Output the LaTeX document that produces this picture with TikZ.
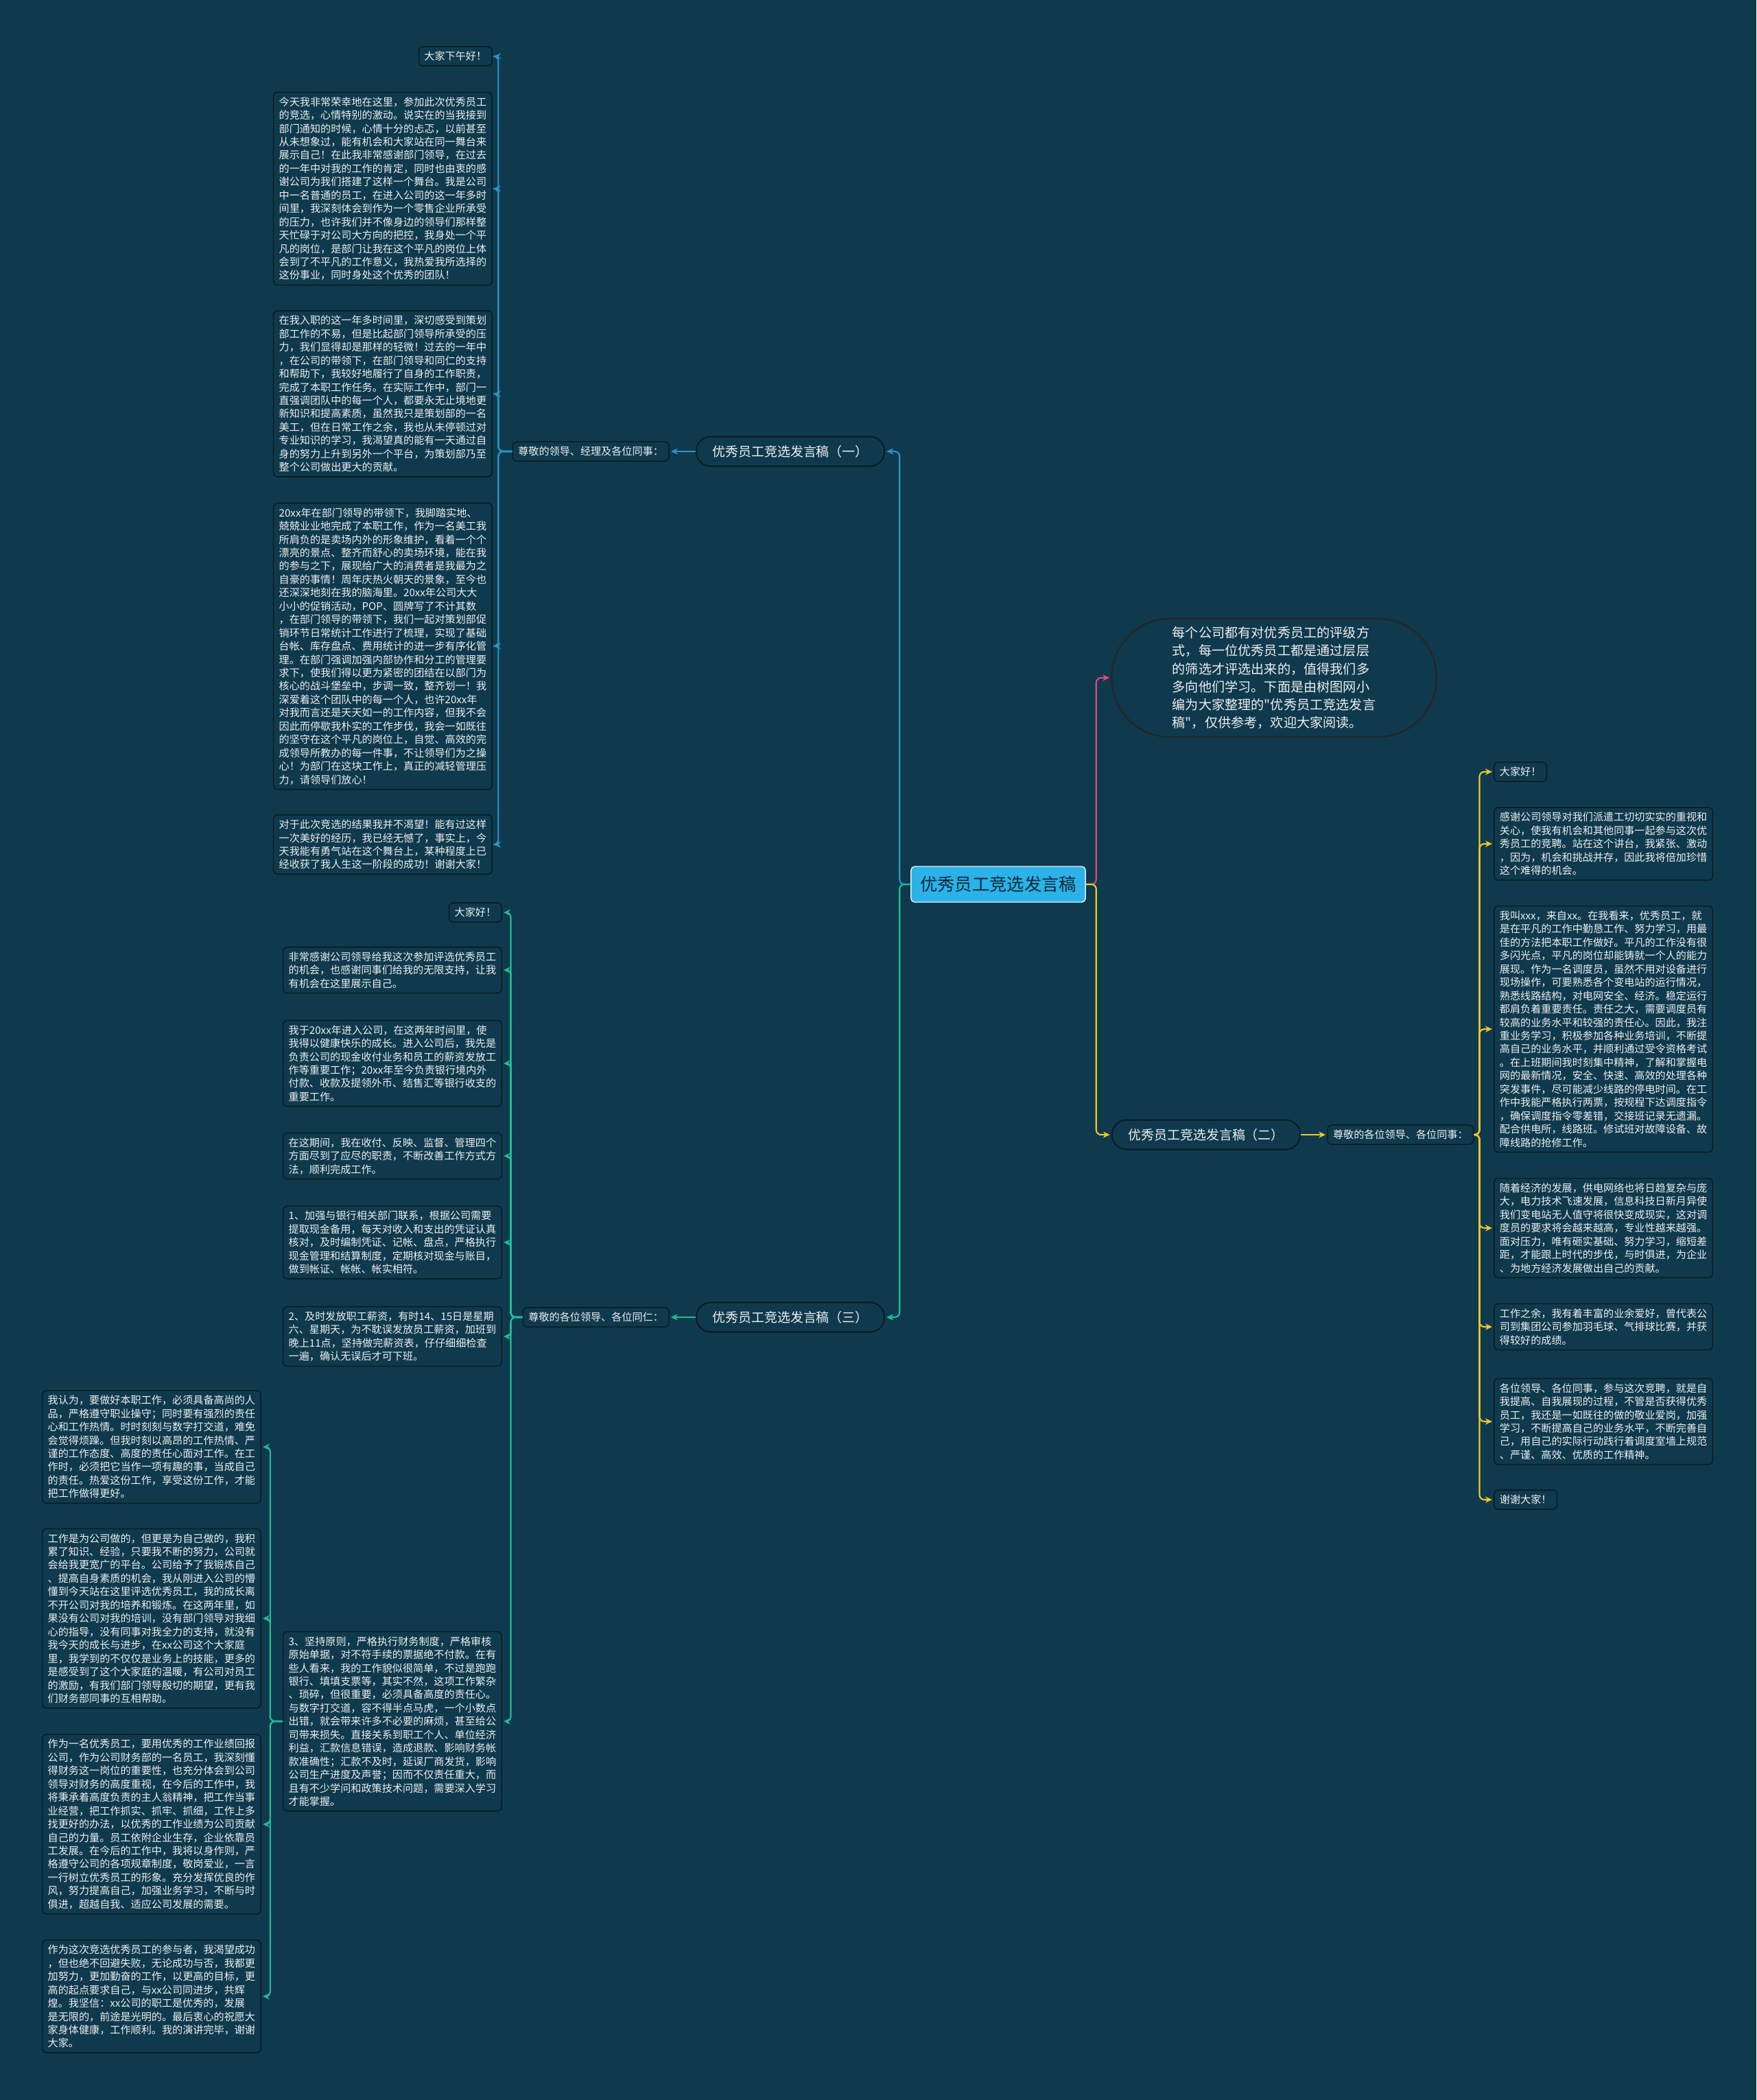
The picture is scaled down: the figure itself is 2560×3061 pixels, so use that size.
\documentclass[tikz,border=0pt]{standalone}
\usepackage{fontspec}
\setmainfont[Ligatures=TeXOff]{Noto Sans CJK SC}
\usepackage{xcolor}
\usepackage{tikz}
\usetikzlibrary{positioning, arrows.meta}

\definecolor{bgcol}{RGB}{15,58,77}
\definecolor{boxline}{RGB}{12,28,36}
\definecolor{inkwhite}{RGB}{238,238,238}
\definecolor{rootfill}{RGB}{43,178,232}
\definecolor{rootink}{RGB}{10,40,56}
\definecolor{blueline}{RGB}{40,150,205}
\definecolor{greenline}{RGB}{34,190,150}
\definecolor{pinkline}{RGB}{228,70,120}
\definecolor{yellowline}{RGB}{238,200,44}

\begin{document}
\begin{tikzpicture}[
        x = 0.01cm, y = -0.01cm,
        every node/.style = {text = inkwhite},
        para/.style = {
            draw = boxline,
            fill = bgcol,
            line width = 0.45pt,
            rounded corners = 1.8pt,
            align = left,
            inner xsep = 2.3pt,
            inner ysep = 2pt,
            font = \fontsize{4.3pt}{5.53pt}\selectfont
        },
        branch/.style = {
            draw = boxline,
            fill = bgcol,
            line width = 0.6pt,
            rounded corners = 0.21cm,
            minimum width = 2.74cm,
            minimum height = 0.43cm,
            inner sep = 1pt,
            font = \fontsize{5.4pt}{6.5pt}\selectfont
        },
        root/.style = {
            draw = white!85!rootfill,
            fill = rootfill,
            text = rootink,
            rounded corners = 1.5pt,
            minimum width = 2.54cm,
            minimum height = 0.52cm,
            inner sep = 1pt,
            font = \fontsize{7.2pt}{8.6pt}\selectfont
        },
        intro/.style = {
            draw = black!85,
            fill = bgcol,
            line width = 0.7pt,
            rounded corners = 0.85cm,
            minimum width = 4.73cm,
            minimum height = 1.72cm,
            align = left,
            font = \fontsize{5.45pt}{7.43pt}\selectfont
        },
        link/.style = {
            line width = 0.6pt,
            rounded corners = 2pt,
            shorten > = 0.6pt,
            -{Stealth[length = 2.8pt, width = 2.6pt]}
        }
    ]
    \fill[bgcol] (0,0) rectangle (2560,3061);
    \useasboundingbox (0,0) rectangle (2560,3061);

    % centre
    \node[root] (speech) at (1455,1289) {优秀员工竞选发言稿};
    \node[intro] (intro) at (1857,988) {
        每个公司都有对优秀员工的评级方\\
        式，每一位优秀员工都是通过层层\\
        的筛选才评选出来的，值得我们多\\
        多向他们学习。下面是由树图网小\\
        编为大家整理的"优秀员工竞选发言\\
        稿"，仅供参考，欢迎大家阅读。};

    % branches
    \node[branch] (one) at (1152,658) {优秀员工竞选发言稿（一）};
    \node[branch] (two) at (1758,1654) {优秀员工竞选发言稿（二）};
    \node[branch] (three) at (1152,1920) {优秀员工竞选发言稿（三）};
    \node[para, left = 0.38cm of one] (dear1) {尊敬的领导、经理及各位同事：};
    \node[para, right = 0.38cm of two] (dear2) {尊敬的各位领导、各位同事：};
    \node[para, left = 0.38cm of three] (dear3) {尊敬的各位领导、各位同仁：};

    % speech one
    \node[para, anchor = east] (one1) at (718,82) {大家下午好！};
    \node[para, anchor = east] (one2) at (718,275) {
        今天我非常荣幸地在这里，参加此次优秀员工\\
        的竞选，心情特别的激动。说实在的当我接到\\
        部门通知的时候，心情十分的忐忑，以前甚至\\
        从未想象过，能有机会和大家站在同一舞台来\\
        展示自己！在此我非常感谢部门领导，在过去\\
        的一年中对我的工作的肯定，同时也由衷的感\\
        谢公司为我们搭建了这样一个舞台。我是公司\\
        中一名普通的员工，在进入公司的这一年多时\\
        间里，我深刻体会到作为一个零售企业所承受\\
        的压力，也许我们并不像身边的领导们那样整\\
        天忙碌于对公司大方向的把控，我身处一个平\\
        凡的岗位，是部门让我在这个平凡的岗位上体\\
        会到了不平凡的工作意义，我热爱我所选择的\\
        这份事业，同时身处这个优秀的团队！};
    \node[para, anchor = east] (one3) at (718,574) {
        在我入职的这一年多时间里，深切感受到策划\\
        部工作的不易，但是比起部门领导所承受的压\\
        力，我们显得却是那样的轻微！过去的一年中\\
        ，在公司的带领下，在部门领导和同仁的支持\\
        和帮助下，我较好地履行了自身的工作职责，\\
        完成了本职工作任务。在实际工作中，部门一\\
        直强调团队中的每一个人，都要永无止境地更\\
        新知识和提高素质，虽然我只是策划部的一名\\
        美工，但在日常工作之余，我也从未停顿过对\\
        专业知识的学习，我渴望真的能有一天通过自\\
        身的努力上升到另外一个平台，为策划部乃至\\
        整个公司做出更大的贡献。};
    \node[para, anchor = east] (one4) at (718,942) {
        20xx年在部门领导的带领下，我脚踏实地、\\
        兢兢业业地完成了本职工作，作为一名美工我\\
        所肩负的是卖场内外的形象维护，看着一个个\\
        漂亮的景点、整齐而舒心的卖场环境，能在我\\
        的参与之下，展现给广大的消费者是我最为之\\
        自豪的事情！周年庆热火朝天的景象，至今也\\
        还深深地刻在我的脑海里。20xx年公司大大\\
        小小的促销活动，POP、圆牌写了不计其数\\
        ，在部门领导的带领下，我们一起对策划部促\\
        销环节日常统计工作进行了梳理，实现了基础\\
        台帐、库存盘点、费用统计的进一步有序化管\\
        理。在部门强调加强内部协作和分工的管理要\\
        求下，使我们得以更为紧密的团结在以部门为\\
        核心的战斗堡垒中，步调一致，整齐划一！我\\
        深爱着这个团队中的每一个人，也许20xx年\\
        对我而言还是天天如一的工作内容，但我不会\\
        因此而停歇我朴实的工作步伐，我会一如既往\\
        的坚守在这个平凡的岗位上，自觉、高效的完\\
        成领导所教办的每一件事，不让领导们为之操\\
        心！为部门在这块工作上，真正的减轻管理压\\
        力，请领导们放心！};
    \node[para, anchor = east] (one5) at (718,1231) {
        对于此次竞选的结果我并不渴望！能有过这样\\
        一次美好的经历，我已经无憾了，事实上，今\\
        天我能有勇气站在这个舞台上，某种程度上已\\
        经收获了我人生这一阶段的成功！谢谢大家！};

    % speech two
    \node[para, anchor = west] (two1) at (2177,1125) {大家好！};
    \node[para, anchor = west] (two2) at (2177,1230) {
        感谢公司领导对我们派遣工切切实实的重视和\\
        关心，使我有机会和其他同事一起参与这次优\\
        秀员工的竞聘。站在这个讲台，我紧张、激动\\
        ，因为，机会和挑战并存，因此我将倍加珍惜\\
        这个难得的机会。};
    \node[para, anchor = west] (two3) at (2177,1500) {
        我叫xxx，来自xx。在我看来，优秀员工，就\\
        是在平凡的工作中勤恳工作、努力学习，用最\\
        佳的方法把本职工作做好。平凡的工作没有很\\
        多闪光点，平凡的岗位却能铸就一个人的能力\\
        展现。作为一名调度员，虽然不用对设备进行\\
        现场操作，可要熟悉各个变电站的运行情况，\\
        熟悉线路结构，对电网安全、经济。稳定运行\\
        都肩负着重要责任。责任之大，需要调度员有\\
        较高的业务水平和较强的责任心。因此，我注\\
        重业务学习，积极参加各种业务培训，不断提\\
        高自己的业务水平，并顺利通过受令资格考试\\
        。在上班期间我时刻集中精神，了解和掌握电\\
        网的最新情况，安全、快速、高效的处理各种\\
        突发事件，尽可能减少线路的停电时间。在工\\
        作中我能严格执行两票，按规程下达调度指令\\
        ，确保调度指令零差错，交接班记录无遗漏。\\
        配合供电所，线路班。修试班对故障设备、故\\
        障线路的抢修工作。};
    \node[para, anchor = west] (two4) at (2177,1790) {
        随着经济的发展，供电网络也将日趋复杂与庞\\
        大，电力技术飞速发展，信息科技日新月异使\\
        我们变电站无人值守将很快变成现实，这对调\\
        度员的要求将会越来越高，专业性越来越强。\\
        面对压力，唯有砸实基础、努力学习，缩短差\\
        距，才能跟上时代的步伐，与时俱进，为企业\\
        、为地方经济发展做出自己的贡献。};
    \node[para, anchor = west] (two5) at (2177,1934) {
        工作之余，我有着丰富的业余爱好，曾代表公\\
        司到集团公司参加羽毛球、气排球比赛，并获\\
        得较好的成绩。};
    \node[para, anchor = west] (two6) at (2177,2072) {
        各位领导、各位同事，参与这次竞聘，就是自\\
        我提高、自我展现的过程，不管是否获得优秀\\
        员工，我还是一如既往的做的敬业爱岗，加强\\
        学习，不断提高自己的业务水平，不断完善自\\
        己，用自己的实际行动践行着调度室墙上规范\\
        、严谨、高效、优质的工作精神。};
    \node[para, anchor = west] (two7) at (2177,2186) {谢谢大家！};

    % speech three
    \node[para, anchor = east] (three1) at (732,1330) {大家好！};
    \node[para, anchor = east] (three2) at (732,1414) {
        非常感谢公司领导给我这次参加评选优秀员工\\
        的机会，也感谢同事们给我的无限支持，让我\\
        有机会在这里展示自己。};
    \node[para, anchor = east] (three3) at (732,1550) {
        我于20xx年进入公司，在这两年时间里，使\\
        我得以健康快乐的成长。进入公司后，我先是\\
        负责公司的现金收付业务和员工的薪资发放工\\
        作等重要工作；20xx年至今负责银行境内外\\
        付款、收款及提领外币、结售汇等银行收支的\\
        重要工作。};
    \node[para, anchor = east] (three4) at (732,1685) {
        在这期间，我在收付、反映、监督、管理四个\\
        方面尽到了应尽的职责，不断改善工作方式方\\
        法，顺利完成工作。};
    \node[para, anchor = east] (three5) at (732,1811) {
        1、加强与银行相关部门联系，根据公司需要\\
        提取现金备用，每天对收入和支出的凭证认真\\
        核对，及时编制凭证、记帐、盘点，严格执行\\
        现金管理和结算制度，定期核对现金与账目，\\
        做到帐证、帐帐、帐实相符。};
    \node[para, anchor = east] (three6) at (732,1948) {
        2、及时发放职工薪资，有时14、15日是星期\\
        六、星期天，为不耽误发放员工薪资，加班到\\
        晚上11点，坚持做完薪资表，仔仔细细检查\\
        一遍，确认无误后才可下班。};
    \node[para, anchor = east] (three7) at (732,2509) {
        3、坚持原则，严格执行财务制度，严格审核\\
        原始单据，对不符手续的票据绝不付款。在有\\
        些人看来，我的工作貌似很简单，不过是跑跑\\
        银行、填填支票等，其实不然，这项工作繁杂\\
        、琐碎，但很重要，必须具备高度的责任心。\\
        与数字打交道，容不得半点马虎，一个小数点\\
        出错，就会带来许多不必要的麻烦，甚至给公\\
        司带来损失。直接关系到职工个人、单位经济\\
        利益，汇款信息错误，造成退款、影响财务帐\\
        款准确性；汇款不及时，延误厂商发货，影响\\
        公司生产进度及声誉；因而不仅责任重大，而\\
        且有不少学问和政策技术问题，需要深入学习\\
        才能掌握。};

    % under point three
    \node[para, anchor = east] (sub1) at (381,2109) {
        我认为，要做好本职工作，必须具备高尚的人\\
        品，严格遵守职业操守；同时要有强烈的责任\\
        心和工作热情。时时刻刻与数字打交道，难免\\
        会觉得烦躁。但我时刻以高昂的工作热情、严\\
        谨的工作态度、高度的责任心面对工作。在工\\
        作时，必须把它当作一项有趣的事，当成自己\\
        的责任。热爱这份工作，享受这份工作，才能\\
        把工作做得更好。};
    \node[para, anchor = east] (sub2) at (381,2359) {
        工作是为公司做的，但更是为自己做的，我积\\
        累了知识、经验，只要我不断的努力，公司就\\
        会给我更宽广的平台。公司给予了我锻炼自己\\
        、提高自身素质的机会，我从刚进入公司的懵\\
        懂到今天站在这里评选优秀员工，我的成长离\\
        不开公司对我的培养和锻炼。在这两年里，如\\
        果没有公司对我的培训，没有部门领导对我细\\
        心的指导，没有同事对我全力的支持，就没有\\
        我今天的成长与进步，在xx公司这个大家庭\\
        里，我学到的不仅仅是业务上的技能，更多的\\
        是感受到了这个大家庭的温暖，有公司对员工\\
        的激励，有我们部门领导殷切的期望，更有我\\
        们财务部同事的互相帮助。};
    \node[para, anchor = east] (sub3) at (381,2659) {
        作为一名优秀员工，要用优秀的工作业绩回报\\
        公司，作为公司财务部的一名员工，我深刻懂\\
        得财务这一岗位的重要性，也充分体会到公司\\
        领导对财务的高度重视，在今后的工作中，我\\
        将秉承着高度负责的主人翁精神，把工作当事\\
        业经营，把工作抓实、抓牢、抓细，工作上多\\
        找更好的办法，以优秀的工作业绩为公司贡献\\
        自己的力量。员工依附企业生存，企业依靠员\\
        工发展。在今后的工作中，我将以身作则，严\\
        格遵守公司的各项规章制度，敬岗爱业，一言\\
        一行树立优秀员工的形象。充分发挥优良的作\\
        风，努力提高自己，加强业务学习，不断与时\\
        俱进，超越自我、适应公司发展的需要。};
    \node[para, anchor = east] (sub4) at (381,2910) {
        作为这次竞选优秀员工的参与者，我渴望成功\\
        ，但也绝不回避失败，无论成功与否，我都更\\
        加努力，更加勤奋的工作，以更高的目标，更\\
        高的起点要求自己，与xx公司同进步，共辉\\
        煌。我坚信：xx公司的职工是优秀的，发展\\
        是无限的，前途是光明的。最后衷心的祝愿大\\
        家身体健康，工作顺利。我的演讲完毕，谢谢\\
        大家。};

    % connectors
    \draw[link, blueline] (speech.west) -- ++(-16,0) |- (one.east);
    \draw[link, greenline] (speech.west) -- ++(-16,0) |- (three.east);
    \draw[link, pinkline] (speech.east) -- ++(15,0) |- (intro.west);
    \draw[link, yellowline] (speech.east) -- ++(15,0) |- (two.west);
    \draw[link, blueline] (one.west) -- (dear1.east);
    \draw[link, yellowline] (two.east) -- (dear2.west);
    \draw[link, greenline] (three.west) -- (dear3.east);
    \foreach \n in {1,...,5}
        \draw[link, blueline] (dear1.west) -- ++(-20,0) |- (one\n.east);
    \foreach \n in {1,...,7}
        \draw[link, yellowline] (dear2.east) -- ++(8,0) |- (two\n.west);
    \foreach \n in {1,...,7}
        \draw[link, greenline] (dear3.west) -- ++(-17,0) |- (three\n.east);
    \foreach \n in {1,...,4}
        \draw[link, greenline] (three7.west) -- ++(-18,0) |- (sub\n.east);
\end{tikzpicture}
\end{document}
